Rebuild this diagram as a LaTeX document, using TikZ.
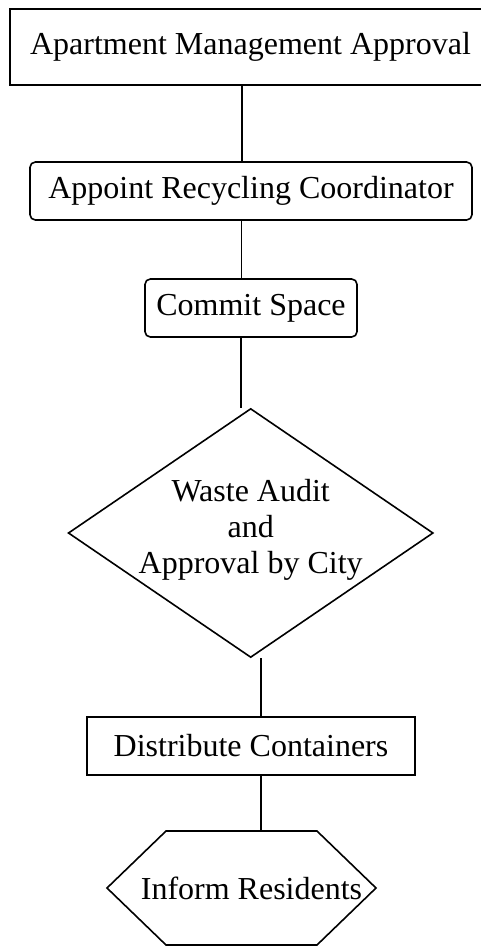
\documentclass[tikz,border=0pt]{standalone}
\usepackage{fontspec}
\setmainfont{Liberation Serif}
\usetikzlibrary{shapes.geometric,shapes.symbols}

\begin{document}
\begin{tikzpicture}[%show background rectangle,
    x=0.75pt, y=-0.75pt,
    font=\fontsize{24pt}{27pt}\selectfont,
    line width=1.2pt
    ]
    \useasboundingbox (0,0) rectangle (481,946);

    \tikzset{
        Kasten/.style={draw,rectangle,inner sep=0pt,minimum height=43.5pt}, % für Schritte
        RKasten/.style={Kasten,rounded corners=4pt}, % abgerundet
        Raute/.style={draw,diamond,inner sep=0pt}, % für Entscheidung
        Sechseck/.style={draw,signal,signal to=west and east,
            signal pointer angle=88,inner sep=0pt} % für Abschluss
    }

    % Schritte
    \node[Kasten, minimum width=360.75pt, minimum height=57pt] (Freigabe)
        at (250.5,47) {Apartment Management Approval};
    \node[RKasten, minimum width=331.5pt] (Koordinator)
        at (251,191) {Appoint Recycling Coordinator};
    \node[RKasten, minimum width=159pt] (Platz)
        at (251,308) {Commit Space};
    \node[Raute, minimum width=273.75pt, minimum height=186.75pt,
        label={[align=center,yshift=2.5pt]center:Waste Audit\\and\\Approval by City}] (Audit)
        at (250.7,533) {};
    \node[Kasten, minimum width=246pt] (Verteilen)
        at (251,746) {Distribute Containers};
    \node[Sechseck, minimum width=201.75pt, minimum height=85.5pt,
        label={[xshift=7.5pt]center:Inform Residents}] (Info)
        at (241.5,888) {};

    % Verbindungen
    \draw   ([xshift=-6.6pt]Freigabe.south) -- ([xshift=-6.6pt]Freigabe.south |- Koordinator.north)
            ([xshift=-7pt]Koordinator.south) -- ([xshift=-7pt]Koordinator.south |- Platz.north)
            ([xshift=-7.5pt]Platz.south) -- ([xshift=-7.5pt]Platz.south |- Audit.north)
            ([xshift=7.5pt]Audit.south) -- ([xshift=7.5pt]Audit.south |- Verteilen.north)
            ([xshift=7.3pt]Verteilen.south) -- ([xshift=7.3pt]Verteilen.south |- Info.north);
\end{tikzpicture}
\end{document}
